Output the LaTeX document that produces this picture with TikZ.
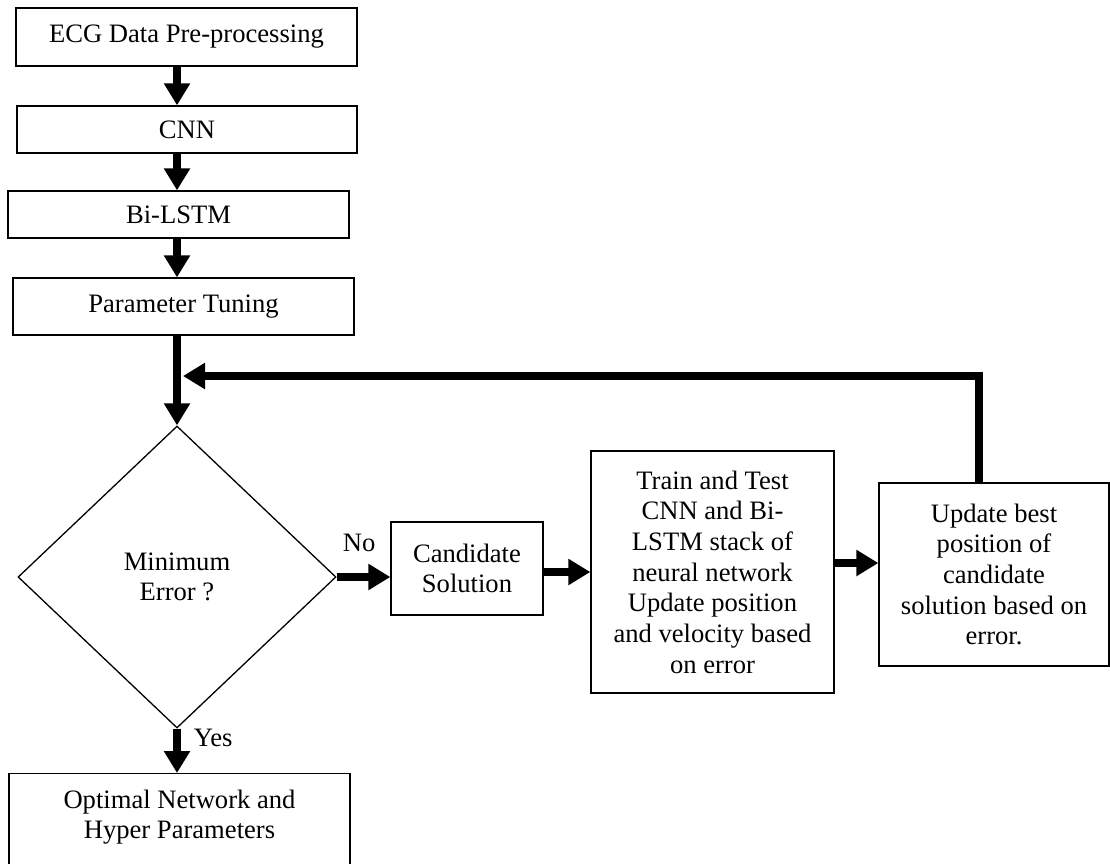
\documentclass[tikz,border=0pt]{standalone}
\usepackage{fontspec}
\setmainfont{Liberation Serif}
\usetikzlibrary{arrows.meta,shapes.geometric}
\tikzset{
  stage/.style={draw, line width=1.3pt, align=center, inner sep=0pt},
  flow/.style={line width=7.5pt, -{Triangle[length=22pt,width=25pt]}},
  tag/.style={inner sep=0pt}
}
\begin{document}
\begin{tikzpicture}[x=1pt, y=-1pt, font=\fontsize{26.6pt}{30.7pt}\selectfont]
\useasboundingbox (0,0) rectangle (1110,863);
\node[stage, minimum width=341pt, minimum height=58pt] (ecg) at (186.5,37) {ECG Data Pre-processing};
\node[stage, minimum width=340pt, minimum height=47pt] (cnn) at (187,129.5) {CNN};
\node[stage, minimum width=341pt, minimum height=47pt] (bil) at (178.5,214.5) {Bi-LSTM};
\node[stage, minimum width=341pt, minimum height=57pt] (par) at (183.5,306.5) {Parameter Tuning};
\node[stage, diamond, minimum width=318pt, minimum height=302pt] (dia) at (177,577) {Minimum\\Error ?};
\node[stage, minimum width=152pt, minimum height=93pt] (cand) at (467,568.5) {Candidate\\Solution};
\node[stage, minimum width=243pt, minimum height=242pt] (train) at (712.5,572) {Train and Test\\CNN and Bi-\\LSTM stack of\\neural network\\Update position\\and velocity based\\on error};
\node[stage, minimum width=230pt, minimum height=183pt] (upd) at (994,574.5) {Update best\\position of\\candidate\\solution based on\\error.};
\node[stage, anchor=north, minimum width=341pt, inner ysep=16pt] (opt) at (179.5,773) {Optimal Network and\\Hyper Parameters\\\strut};
\coordinate (merge) at (183,376);

\draw[flow] (ecg.south -| dia.north) -- (cnn.north -| dia.north);
\draw[flow] (cnn.south -| dia.north) -- (bil.north -| dia.north);
\draw[flow] (bil.south -| dia.north) -- (par.north -| dia.north);
\draw[flow] (par.south -| dia.north) -- (dia.north);
\draw[flow] (dia.east) -- (dia.east -| cand.west) node[tag, pos=0.42, above=22pt] {No};
\draw[flow] (cand.east |- train.west) -- (train.west);
\draw[flow] ([yshift=9pt]train.east) -- ([yshift=9pt]train.east -| upd.west);
\draw[flow] ([xshift=-15pt]upd.north) |- (merge);
\draw[flow] (dia.south) -- (dia.south |- opt.north) node[tag, pos=0.2, right=13pt] {Yes};
\end{tikzpicture}
\end{document}
